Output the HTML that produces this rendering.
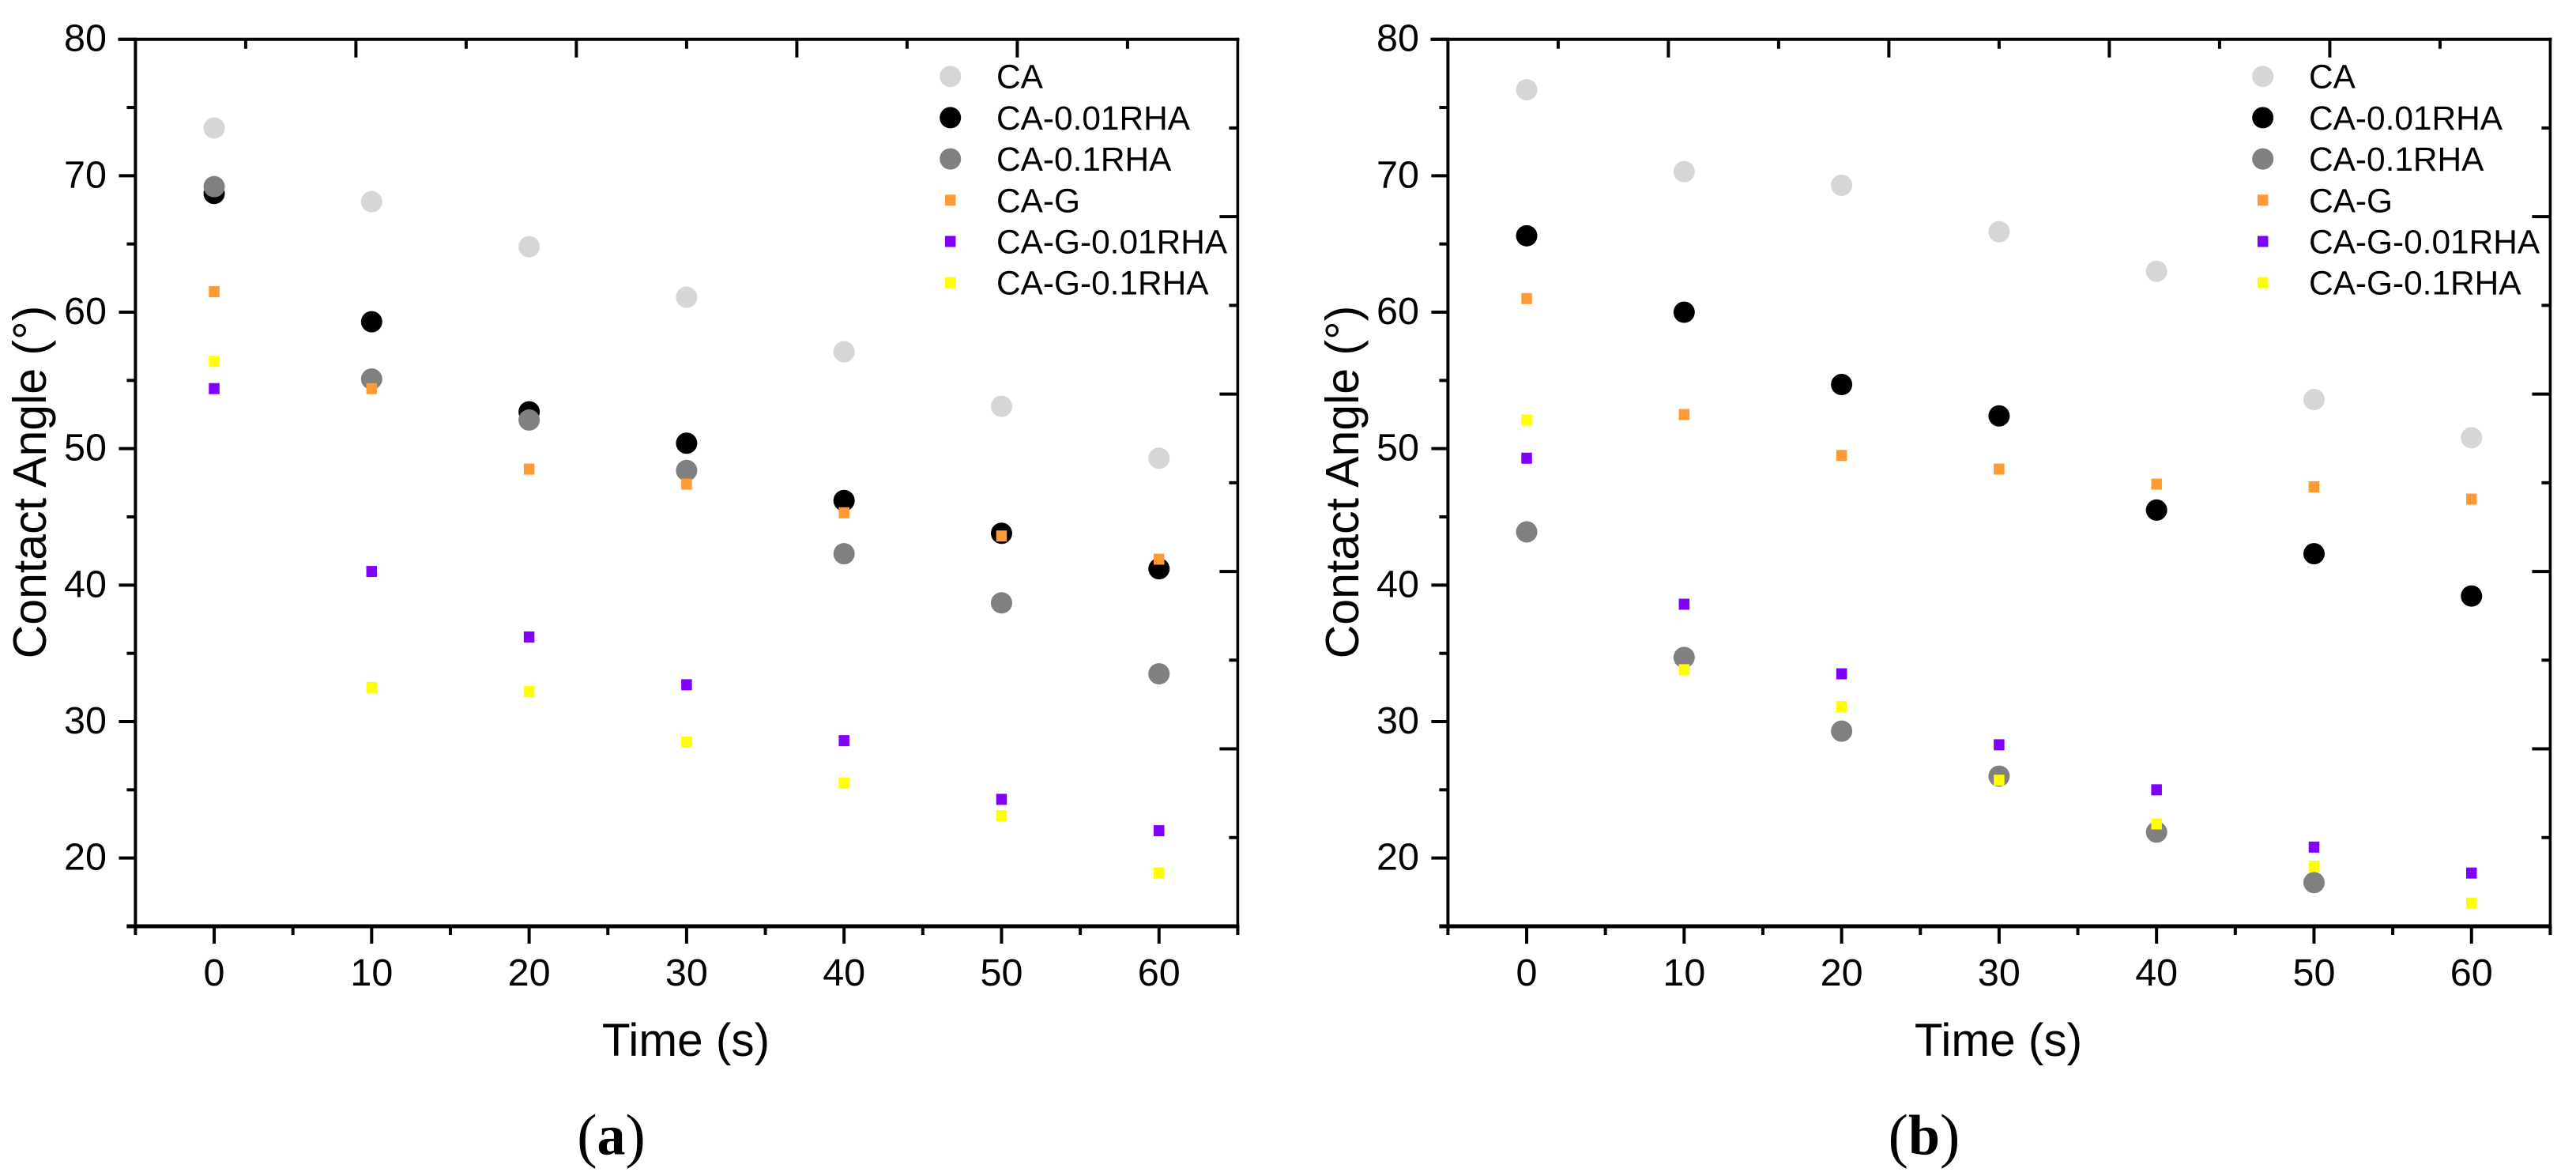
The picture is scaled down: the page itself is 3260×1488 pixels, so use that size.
<!DOCTYPE html>
<html lang="en">
<head>
<meta charset="utf-8">
<title>Contact Angle vs Time</title>
<style>
html,body{margin:0;padding:0;background:#fff;}
body{width:3260px;height:1488px;overflow:hidden;}
svg{display:block;}
text{font-family:"Liberation Sans",Arial,sans-serif;fill:#000;}
</style>
</head>
<body>
<svg id="figure" xmlns="http://www.w3.org/2000/svg" width="3260" height="1488" viewBox="0 0 3260 1488"></svg>
<script>
const times = [0, 10, 20, 30, 40, 50, 60];
const xMajorTicks = [0, 10, 20, 30, 40, 50, 60];
const xMinorTicks = [-5, 5, 15, 25, 35, 45, 55, 65];
const yMajorTicks = [20, 30, 40, 50, 60, 70, 80];
const yMinorTicks = [15, 25, 35, 45, 55, 65, 75];
const seriesNames = ['CA', 'CA-0.01RHA', 'CA-0.1RHA', 'CA-G', 'CA-G-0.01RHA', 'CA-G-0.1RHA'];
const seriesColors = ['#d6d6d6', '#000000', '#808080', '#ff9933', '#8000ff', '#ffff00'];
const seriesShapes = ['circle', 'circle', 'circle', 'square', 'square', 'square'];

const panelA_CA = [73.5, 68.1, 64.8, 61.1, 57.1, 53.1, 49.3];
const panelA_CA001 = [68.7, 59.3, 52.7, 50.4, 46.2, 43.8, 41.2];
const panelA_CA01 = [69.2, 55.1, 52.1, 48.4, 42.3, 38.7, 33.5];
const panelA_G = [61.5, 54.4, 48.5, 47.4, 45.3, 43.6, 41.9];
const panelA_G001 = [54.4, 41.0, 36.2, 32.7, 28.6, 24.3, 22.0];
const panelA_G01 = [56.4, 32.5, 32.2, 28.5, 25.5, 23.1, 18.9];

const panelB_CA = [76.3, 70.3, 69.3, 65.9, 63.0, 53.6, 50.8];
const panelB_CA001 = [65.6, 60.0, 54.7, 52.4, 45.5, 42.3, 39.2];
const panelB_CA01 = [43.9, 34.7, 29.3, 26.0, 21.9, 18.2, null];
const panelB_G = [61.0, 52.5, 49.5, 48.5, 47.4, 47.2, 46.3];
const panelB_G001 = [49.3, 38.6, 33.5, 28.3, 25.0, 20.8, 18.9];
const panelB_G01 = [52.1, 33.8, 31.1, 25.7, 22.5, 19.4, 16.7];

const panelAValues = [panelA_CA, panelA_CA001, panelA_CA01, panelA_G, panelA_G001, panelA_G01];
const panelBValues = [panelB_CA, panelB_CA001, panelB_CA01, panelB_G, panelB_G001, panelB_G01];

const NS = 'http://www.w3.org/2000/svg';
const svg = document.getElementById('figure');
const TOP = 49.7, BOTTOM = 1172;
const yScale = v => BOTTOM - (v - 15) * (BOTTOM - TOP) / 65;

function mk(parent, tag, attrs, txt) {
  const el = document.createElementNS(NS, tag);
  for (const k in attrs) el.setAttribute(k, attrs[k]);
  if (txt !== undefined) el.textContent = txt;
  parent.appendChild(el);
  return el;
}
function hLine(parent, x1, x2, y, w) {
  return mk(parent, 'line', {x1: x1, x2: x2, y1: y, y2: y, stroke: '#000', 'stroke-width': w});
}
function vLine(parent, x, y1, y2, w) {
  return mk(parent, 'line', {x1: x, x2: x, y1: y1, y2: y2, stroke: '#000', 'stroke-width': w});
}
function drawMarker(parent, shape, color, cx, cy) {
  if (shape === 'circle') {
    return mk(parent, 'circle', {cx: cx, cy: cy, r: 13.5, fill: color});
  }
  return mk(parent, 'rect', {x: cx - 6.75, y: cy - 7, width: 13.5, height: 14, fill: color});
}

function drawPanel(offset, values, tag, labelX) {
  const left = 171.4 + offset, right = 1566.4 + offset;
  const xScale = v => left + (v + 5) * (right - left) / 70;

  const panel = mk(svg, 'g', {});
  
  

  const axes = mk(panel, 'g', {});
  
  

  const bottomSpine = hLine(axes, left - 11, right + 2, BOTTOM, 5);
  
  
  const leftSpine = vLine(axes, left, TOP - 2, BOTTOM + 2, 4);
  
  
  const topSpine = hLine(axes, left - 22, right + 2, TOP, 4);
  
  
  const rightSpine = vLine(axes, right, TOP - 2, BOTTOM + 11, 3.6);
  
  

  xMajorTicks.forEach(v => {
    const t = vLine(axes, xScale(v), BOTTOM, BOTTOM + 22, 4);
    
    
    const l = mk(panel, 'text', {x: xScale(v), y: 1247, 'font-size': 48.5, 'text-anchor': 'middle'}, String(v));
    
    
  });
  xMinorTicks.forEach(v => {
    const t = vLine(axes, xScale(v), BOTTOM, BOTTOM + 11, 4);
    
    
  });
  yMajorTicks.forEach(v => {
    const t = hLine(axes, left - 21, left, yScale(v), 4);
    
    
    const l = mk(panel, 'text', {x: 135 + offset, y: yScale(v) + 15, 'font-size': 48.5, 'text-anchor': 'end'}, String(v));
    
    
  });
  yMinorTicks.forEach(v => {
    const t = hLine(axes, left - 11, left, yScale(v), 4);
    
    
  });

  for (let i = 1; i <= 9; i++) {
    const major = i % 2 === 0;
    const tx = left + (right - left) * i / 10;
    const ty = TOP + (BOTTOM - TOP) * i / 10;
    const t1 = vLine(axes, tx, TOP, TOP + (major ? 23 : 12), 4);
    
    
    const t2 = hLine(axes, right - (major ? 23 : 11), right, ty, 4);
    
    
  }

  const xTitle = mk(panel, 'text', {x: 868 + offset, y: 1336, 'font-size': 58.5, 'text-anchor': 'middle'}, 'Time (s)');
  
  

  const yTitle = mk(panel, 'text', {x: 0, y: 0, 'font-size': 59, 'text-anchor': 'middle', transform: 'translate(' + (58 + offset) + ' 610) rotate(-90)'}, 'Contact Angle (°)');
  
  

  values.forEach((vals, s) => {
    const g = mk(panel, 'g', {});
    
    
    vals.forEach((v, i) => {
      if (v === null) return;
      const m = drawMarker(g, seriesShapes[s], seriesColors[s], xScale(times[i]), yScale(v));
      
      
    });
  });

  const legend = mk(panel, 'g', {});
  
  
  seriesNames.forEach((name, s) => {
    const ly = 96.7 + s * 52.2;
    const m = drawMarker(legend, seriesShapes[s], seriesColors[s], 1202.7 + offset, ly);
    
    
    const t = mk(legend, 'text', {x: 1261 + offset, y: ly + 15, 'font-size': 42.4}, name);
    
    
  });

  const cap = mk(panel, 'text', {x: labelX, y: 1460.5, 'font-size': 76, 'text-anchor': 'middle', style: 'font-family:"Liberation Serif",serif'});
  
  
  mk(cap, 'tspan', {dy: 2}, '(');
  mk(cap, 'tspan', {'font-weight': 'bold', 'font-size': 72, dy: -2}, tag);
  mk(cap, 'tspan', {dy: 2}, ')');
}

drawPanel(0, panelAValues, 'a', 773.5);
drawPanel(1661, panelBValues, 'b', 2435);
</script>
</body>
</html>
